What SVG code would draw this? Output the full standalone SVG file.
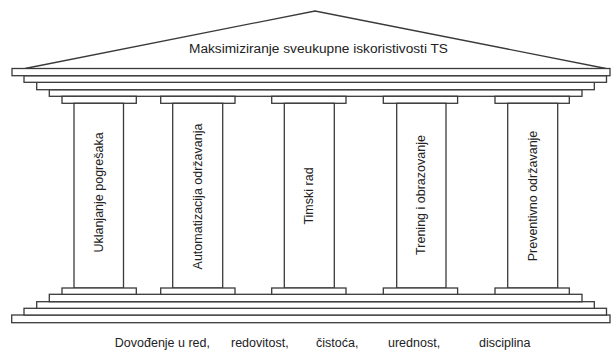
<svg xmlns="http://www.w3.org/2000/svg" width="611" height="353" viewBox="0 0 611 353">
<style>
.s{fill:#fff;stroke:#3a3a3a;stroke-width:1.3}
.l{fill:none;stroke:#3a3a3a;stroke-width:1.3}
.t{font-family:"Liberation Sans",Arial,sans-serif;font-size:12.5px;fill:#222}
.c{text-anchor:middle;dominant-baseline:central}
</style>
<rect width="611" height="353" fill="#fff"/>
<g id="roof">
<polyline class="l" points="25,68.5 315,11 606,68.5"/>
<text class="t" x="318.5" y="53.3" text-anchor="middle" textLength="259" lengthAdjust="spacingAndGlyphs">Maksimiziranje sveukupne iskoristivosti TS</text>
</g>
<g id="entablature">
<rect class="s" x="49.3" y="89.7" width="532.7" height="6.6"/>
<rect class="s" x="36.7" y="82.3" width="557.6" height="7.4"/>
<rect class="s" x="24" y="75.7" width="582.5" height="6.6"/>
<rect class="s" x="12" y="68.5" width="598" height="7.2"/>
</g>
<g id="base">
<rect class="s" x="11.7" y="315" width="598.3" height="7.7"/>
<rect class="s" x="24" y="308.3" width="582.5" height="6.7"/>
<rect class="s" x="36.7" y="301.7" width="557.6" height="6.6"/>
<rect class="s" x="49.3" y="294.3" width="532.7" height="7.4"/>
</g>
<g id="col1">
<rect class="s" x="62" y="96.3" width="74.3" height="7"/>
<rect class="s" x="74" y="103.3" width="49.5" height="184.7"/>
<rect class="s" x="62" y="288" width="74.3" height="6.3"/>
<text class="t c" transform="translate(98.8,192.5) rotate(-90)">Uklanjanje pogrešaka</text>
</g>
<g id="col2">
<rect class="s" x="160.7" y="96.3" width="74.3" height="7"/>
<rect class="s" x="172.7" y="103.3" width="50" height="184.7"/>
<rect class="s" x="160.7" y="288" width="74.3" height="6.3"/>
<text class="t c" transform="translate(197.7,196.5) rotate(-90)">Automatizacija održavanja</text>
</g>
<g id="col3">
<rect class="s" x="271.7" y="96.3" width="74.3" height="7"/>
<rect class="s" x="284.3" y="103.3" width="50" height="184.7"/>
<rect class="s" x="271.7" y="288" width="74.3" height="6.3"/>
<text class="t c" transform="translate(309.3,196) rotate(-90)">Timski rad</text>
</g>
<g id="col4">
<rect class="s" x="383.3" y="96.3" width="74.3" height="7"/>
<rect class="s" x="396.7" y="103.3" width="49.3" height="184.7"/>
<rect class="s" x="383.3" y="288" width="74.3" height="6.3"/>
<text class="t c" transform="translate(421.3,195) rotate(-90)">Trening i obrazovanje</text>
</g>
<g id="col5">
<rect class="s" x="495" y="96.3" width="74.3" height="7"/>
<rect class="s" x="507.7" y="103.3" width="50" height="184.7"/>
<rect class="s" x="495" y="288" width="74.3" height="6.3"/>
<text class="t c" transform="translate(532.7,196) rotate(-90)">Preventivno održavanje</text>
</g>
<g id="connectors"></g>
<g id="foundation-text">
<text class="t" x="210" y="347" text-anchor="end">Dovođenje u red,</text>
<text class="t" x="231" y="347">redovitost,</text>
<text class="t" x="316" y="347">čistoća,</text>
<text class="t" x="388" y="347">urednost,</text>
<text class="t" x="479" y="347">disciplina</text>
</g>
</svg>
